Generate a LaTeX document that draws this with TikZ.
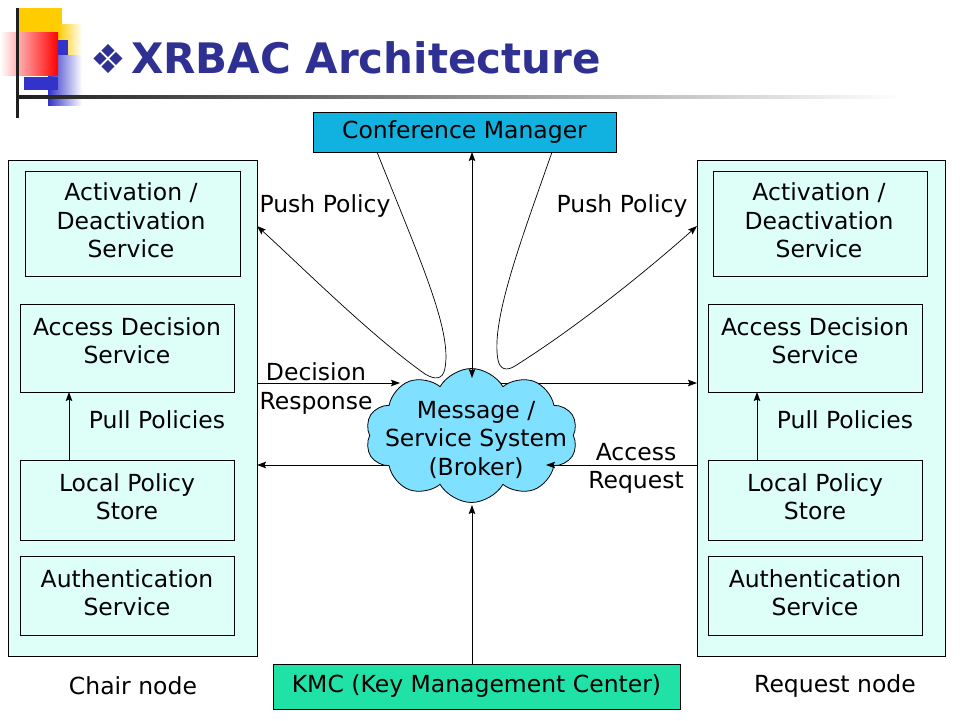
\documentclass[tikz,border=0pt]{standalone}
\usepackage{fontspec}
\setmainfont{DejaVu Sans}
\usetikzlibrary{arrows.meta,shapes.symbols,calc}
\definecolor{panelc}{RGB}{222,255,248}
\definecolor{cmc}{RGB}{18,178,224}
\definecolor{kmcc}{RGB}{32,226,166}
\definecolor{cloudc}{RGB}{128,224,255}
\definecolor{titlec}{RGB}{46,49,146}
\definecolor{logoy}{RGB}{255,204,0}
\definecolor{logob}{RGB}{51,51,204}
\begin{document}
\begin{tikzpicture}[x=1pt,y=-1pt,
  every node/.style={inner sep=0pt,outer sep=0pt},
  panel/.style={draw,line width=0.8pt,fill=panelc,rectangle},
  box/.style={draw,line width=0.8pt,fill=panelc,rectangle},
  txt/.style={align=center,font=\fontsize{23.5}{28.5}\selectfont},
  tip/.style={-{Stealth[length=9pt,width=6.5pt,inset=1.5pt]},line width=0.8pt},
  tipboth/.style={{Stealth[length=9pt,width=6.5pt,inset=1.5pt]}-{Stealth[length=9pt,width=6.5pt,inset=1.5pt]},line width=0.8pt},
  curvetip/.style={-{Stealth[length=9pt,width=6.5pt,inset=1.5pt]},line width=0.7pt}
]
\useasboundingbox (0,0) rectangle (960,720);
\fill[white] (0,0) rectangle (960,720);

% ---------- logo ----------
\fill[logoy] (19,8) rectangle (62,50);
\shade[left color=logoy,right color=white] (58,24) rectangle (82,55);
\shade[left color=logob,right color=white] (48,55) rectangle (82,105);
\shade[left color=white,right color=red] (0,32) rectangle (58,75);
\fill[logob] (58,40) rectangle (68,55);
\fill[logob] (24,77) rectangle (58,90);
\shade[left color=black!88,middle color=black!55,right color=white] (17,95.5) rectangle (900,98.5);
\fill[black!88] (15.5,8) rectangle (18.5,118);

% ---------- title ----------
\node[anchor=center,font=\fontsize{40}{44}\selectfont,text=titlec] (bullet) at (108,59) {❖};
\node[anchor=base west,font=\fontsize{42}{50}\selectfont\bfseries,text=titlec] (title) at (131,73) {XRBAC Architecture};

% ---------- panels ----------
\node[panel,minimum width=249pt,minimum height=496pt] (panelL) at (132.5,408) {};
\node[panel,minimum width=248pt,minimum height=496pt] (panelR) at (821,408) {};

\node[box,minimum width=215pt,minimum height=105pt] (actL) at (132.5,223.5) {};
\node[box,minimum width=214pt,minimum height=88pt] (adsL) at (127,348) {};
\node[box,minimum width=214pt,minimum height=80pt] (lpsL) at (127,500) {};
\node[box,minimum width=214pt,minimum height=79pt] (authL) at (127,595.5) {};

\node[box,minimum width=214pt,minimum height=105pt] (actR) at (820,223.5) {};
\node[box,minimum width=214pt,minimum height=88pt] (adsR) at (815,348) {};
\node[box,minimum width=214pt,minimum height=80pt] (lpsR) at (815,500) {};
\node[box,minimum width=214pt,minimum height=79pt] (authR) at (815,595.5) {};

\node[txt] (actLt) at (131,220.5) {Activation /\\Deactivation\\Service};
\node[txt] (adsLt) at (127,340.5) {Access Decision\\Service};
\node[txt] (lpsLt) at (127,496.5) {Local Policy\\Store};
\node[txt] (authLt) at (127,592.5) {Authentication\\Service};
\node[txt] (pullLt) at (157,419.5) {Pull Policies};
\node[txt] (chair) at (133,686) {Chair node};

\node[txt] (actRt) at (819,220.5) {Activation /\\Deactivation\\Service};
\node[txt] (adsRt) at (815,340.5) {Access Decision\\Service};
\node[txt] (lpsRt) at (815,496.5) {Local Policy\\Store};
\node[txt] (authRt) at (815,592.5) {Authentication\\Service};
\node[txt] (pullRt) at (845,419.5) {Pull Policies};
\node[txt] (request) at (835,686) {Request node};

\draw[tip] ([xshift=-58pt]lpsL.north) -- ([xshift=-58pt]adsL.south);
\draw[tip] ([xshift=-58pt]lpsR.north) -- ([xshift=-58pt]adsR.south);

% ---------- centre ----------
\node[draw,line width=0.8pt,fill=cmc,minimum width=303pt,minimum height=40pt,txt] (cm) at (464.5,132) {Conference Manager};
\node[draw,line width=0.8pt,fill=kmcc,minimum width=407pt,minimum height=45pt,txt] (kmc) at (476.5,686.5) {\raisebox{-2pt}{KMC (Key Management Center)}};

\coordinate (ccen) at (471.5,435.5);
\coordinate (rtLevel) at (0,383);
\coordinate (lbLevel) at (0,465);
% lines leaving the cloud: start at its centre, hidden by the cloud drawn on top
\draw[tip] (ccen |- rtLevel) -- (rtLevel -| panelR.west);
\draw[tip] (ccen |- lbLevel) -- (lbLevel -| panelL.east);

\node[cloud,cloud puffs=10,cloud puff arc=120,aspect=1.6,draw,line width=0.8pt,fill=cloudc,
      minimum width=212pt,minimum height=134pt] (cloud) at (ccen) {};
\node[txt] (cloudt) at (476,439.5) {Message /\\Service System\\(Broker)};

\node[txt] (ppL) at (325,206.5) {Push Policy};
\node[txt] (ppR) at (622,206.5) {Push Policy};
\node[txt] (dr) at (316,388.5) {Decision\\Response};
\node[txt] (ar) at (636,468.5) {Access\\Request};

\coordinate (ctop) at (472,378);
\coordinate (cbot) at (472,505);
\coordinate (drEnd) at (400,383);
\coordinate (arEnd) at (546,465);
\coordinate (ppLend) at (258,226);
\coordinate (ppRend) at (697,226);

\draw[tipboth] (ctop |- cm.south) -- (ctop);
\draw[tip] (cbot |- kmc.north) -- (cbot);
\draw[tip] (drEnd -| panelL.east) -- (drEnd);
\draw[tip] (arEnd -| panelR.west) -- (arEnd);

\draw[curvetip] ([xshift=-87.5pt]cm.south) .. controls (420,260) and (452,330) .. (445,368)
   .. controls (443,380) and (435,380) .. (425,374)
   .. controls (370,335) and (300,265) .. (ppLend -| panelL.east);
\draw[curvetip] ([xshift=87.5pt]cm.south) .. controls (525,230) and (490,320) .. (498,360)
   .. controls (500,370) and (507,371) .. (515,366)
   .. controls (580,325) and (650,268) .. (ppRend -| panelR.west);
\end{tikzpicture}
\end{document}
